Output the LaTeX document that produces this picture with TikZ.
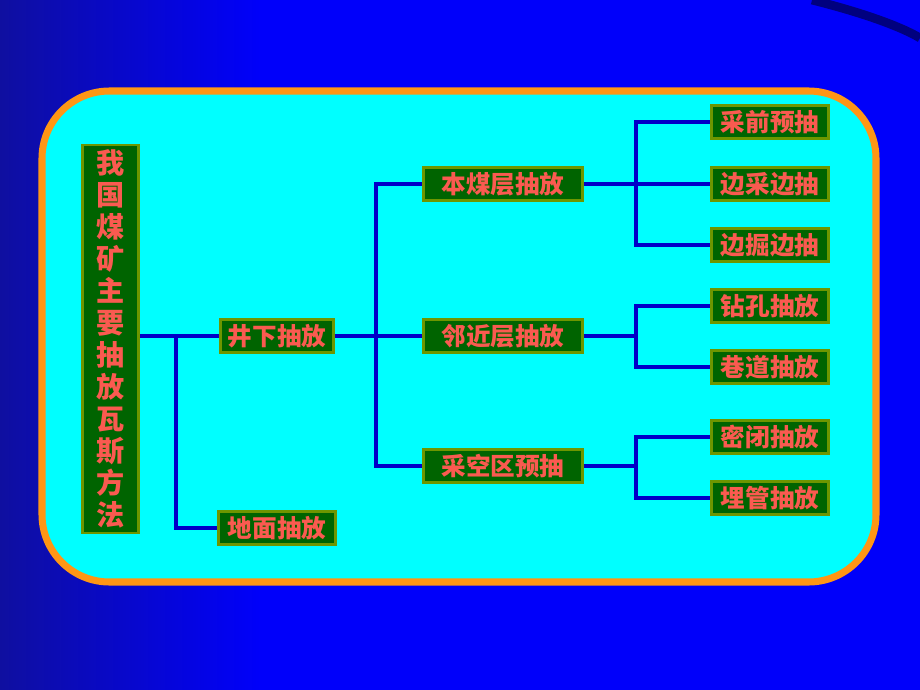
\documentclass[tikz,border=0pt]{standalone}
\usepackage{fontspec}
\newfontfamily\cjk{Noto Sans CJK SC}
\usepackage{tikz}
\usetikzlibrary{positioning, calc}
\definecolor{bgblue}{RGB}{0,0,250}
\definecolor{bgdark}{RGB}{15,15,160}
\definecolor{panel}{RGB}{0,255,255}
\definecolor{rim}{RGB}{255,150,20}
\definecolor{boxgreen}{RGB}{0,100,0}
\definecolor{boxrim}{RGB}{110,150,0}
\definecolor{txtred}{RGB}{250,90,80}
\definecolor{wire}{RGB}{0,0,200}

\begin{document}
\begin{tikzpicture}[x=0.02cm, y=-0.02cm,
    item/.style={draw=boxrim, line width=1.6pt, fill=boxgreen, text=txtred,
        font=\cjk\bfseries\fontsize{14}{16}\selectfont, inner sep=0pt,
        minimum height=0.66cm},
    leaf/.style={item, minimum width=2.34cm},
    mid/.style={item, minimum width=3.18cm},
    first/.style={item, minimum width=2.25cm},
    link/.style={draw=wire, line width=2.2pt}]
\useasboundingbox (0,0) rectangle (920,690);
% background
\fill[bgblue] (0,0) rectangle (920,690);
\shade[left color=bgdark, right color=bgblue] (0,0) rectangle (260,690);
\foreach \r in {760,830,900} {
    \draw[white, opacity=0.05, line width=3pt] (1050,820) ++(180:\r) arc[start angle=180, end angle=120, radius=\r];
}
\draw[blue!30!black, opacity=0.7, line width=5pt] (812,0) .. controls (860,12) and (900,26) .. (920,38);
% panel
\draw[rim, line width=4pt, fill=panel, rounded corners=1.35cm] (42,91) rectangle (876,582);

% nodes
\node[item, minimum width=1.12cm, minimum height=7.76cm, font=\cjk\bfseries\fontsize{16}{18.2}\selectfont, align=center] (title) at (110.5,339)
    {我\\国\\煤\\矿\\主\\要\\抽\\放\\瓦\\斯\\方\\法};
\node[first] (jx) at (277,336) {井下抽放};
\node[first, minimum width=2.35cm] (dm) at (277,528) {地面抽放};
\node[mid] (bmc) at (503,184) {本煤层抽放};
\node[mid] (ljc) at (503,336) {邻近层抽放};
\node[mid] (ckq) at (503,466) {采空区预抽};
\node[leaf] (cq) at (770,122) {采前预抽};
\node[leaf] (bc) at (770,184) {边采边抽};
\node[leaf] (bj) at (770,245) {边掘边抽};
\node[leaf] (zk) at (770,306) {钻孔抽放};
\node[leaf] (hd) at (770,367) {巷道抽放};
\node[leaf] (mb) at (770,437) {密闭抽放};
\node[leaf] (mg) at (770,498) {埋管抽放};

% connectors
\coordinate (s1) at (176,336);
\coordinate (s2) at (376,336);
\coordinate (s3) at (636,184);
\coordinate (s4) at (636,336);
\coordinate (s5) at (636,466);
\draw[link] (title.east |- jx) -- (jx.west);
\draw[link] (s1) |- (dm.west);
\draw[link] (jx.east) -- (s2);
\draw[link] (s2) |- (bmc.west);
\draw[link] (s2) -- (ljc.west);
\draw[link] (s2) |- (ckq.west);
\draw[link] (bmc.east) -- (bc.west);
\draw[link] (s3) |- (cq.west);
\draw[link] (s3) |- (bj.west);
\draw[link] (ljc.east) -- (s4);
\draw[link] (s4) |- (zk.west);
\draw[link] (s4) |- (hd.west);
\draw[link] (ckq.east) -- (s5);
\draw[link] (s5) |- (mb.west);
\draw[link] (s5) |- (mg.west);
\end{tikzpicture}
\end{document}
